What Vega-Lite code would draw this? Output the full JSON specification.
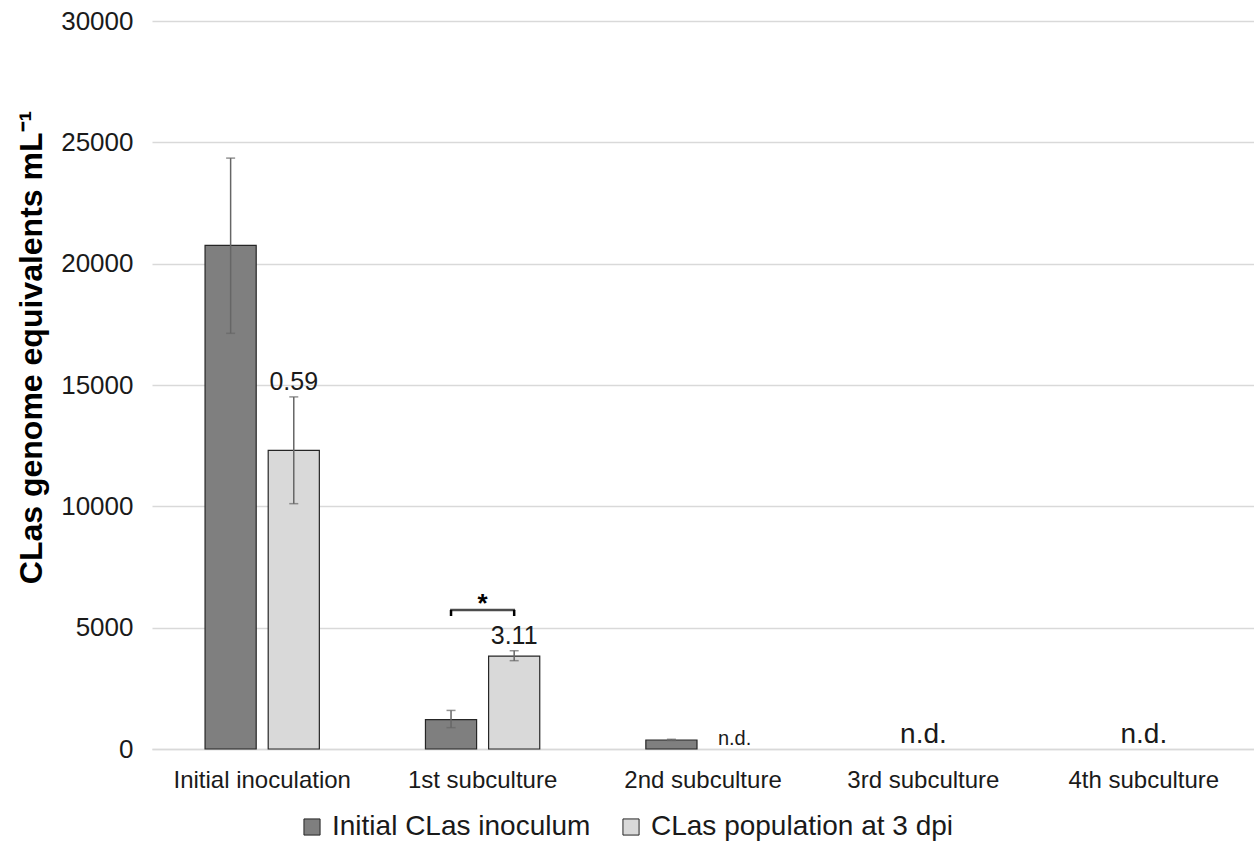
{
  "$schema": "https://vega.github.io/schema/vega-lite/v6.json",
  "width": 1102,
  "height": 728,
  "autosize": {"type": "none"},
  "padding": {"left": 152, "top": 21, "right": 0, "bottom": 92},
  "background": "white",
  "config": {"view": {"stroke": null}, "font": "Liberation Sans"},
  "datasets": {
    "bars": [
      {"stage": "Initial inoculation", "series": "Initial CLas inoculum", "value": 20750, "lo": 17130, "hi": 24350, "note": null},
      {"stage": "Initial inoculation", "series": "CLas population at 3 dpi", "value": 12310, "lo": 10110, "hi": 14510, "note": "0.59"},
      {"stage": "1st subculture", "series": "Initial CLas inoculum", "value": 1210, "lo": 880, "hi": 1590, "note": null},
      {"stage": "1st subculture", "series": "CLas population at 3 dpi", "value": 3830, "lo": 3640, "hi": 4050, "note": "3.11"},
      {"stage": "2nd subculture", "series": "Initial CLas inoculum", "value": 370, "lo": 350, "hi": 400, "note": null}
    ],
    "ndsmall": [
      {"stage": "2nd subculture", "series": "CLas population at 3 dpi", "y": 0, "text": "n.d."}
    ],
    "ndlarge": [
      {"stage": "3rd subculture", "y": 0, "text": "n.d."},
      {"stage": "4th subculture", "y": 0, "text": "n.d."}
    ],
    "bracket": [
      {"stage": "1st subculture", "series": "Initial CLas inoculum", "lo": 5480, "hi": 5730},
      {"stage": "1st subculture", "series": "CLas population at 3 dpi", "lo": 5480, "hi": 5730}
    ],
    "star": [
      {"stage": "1st subculture", "y": 5730, "text": "*"}
    ]
  },
  "encoding": {
    "x": {
      "field": "stage", "type": "nominal",
      "scale": {"domain": ["Initial inoculation", "1st subculture", "2nd subculture", "3rd subculture", "4th subculture"], "paddingInner": 0, "paddingOuter": 0},
      "axis": {"title": null, "labelAngle": 0, "labelFontSize": 24, "labelColor": "#1a1a1a", "labelPadding": 19, "labelLimit": 300, "ticks": false, "domainColor": "#d9d9d9", "domainWidth": 1.5, "grid": false}
    }
  },
  "layer": [
    {
      "data": {"name": "bars"},
      "mark": {"type": "bar", "stroke": "#262626", "strokeWidth": 1.2},
      "encoding": {
        "xOffset": {"field": "series", "type": "nominal", "scale": {"domain": ["Initial CLas inoculum", "CLas population at 3 dpi"], "paddingInner": 0.19, "paddingOuter": 0.84}},
        "y": {
          "field": "value", "type": "quantitative",
          "scale": {"domain": [0, 30000], "nice": false},
          "axis": {"title": "CLas genome equivalents mL⁻¹", "titleFontSize": 32, "titleFontWeight": "bold", "titleColor": "#000", "titlePadding": 12, "titleY": 326, "labelFontSize": 26, "labelColor": "#1a1a1a", "labelPadding": 19, "values": [0, 5000, 10000, 15000, 20000, 25000, 30000], "format": "d", "ticks": false, "domain": false, "gridColor": "#d9d9d9", "gridWidth": 1.5}
        },
        "color": {
          "field": "series", "type": "nominal",
          "scale": {"domain": ["Initial CLas inoculum", "CLas population at 3 dpi"], "range": ["#7f7f7f", "#d9d9d9"]},
          "legend": {"title": null, "orient": "none", "direction": "horizontal", "legendX": 146, "legendY": 792, "symbolType": "square", "symbolSize": 260, "symbolStrokeColor": "#262626", "symbolStrokeWidth": 1, "labelFontSize": 28, "labelLimit": 500, "labelColor": "#1a1a1a", "labelOffset": 6, "columnPadding": 26}
        }
      }
    },
    {
      "data": {"name": "bars"},
      "mark": {"type": "rule", "color": "#666666", "strokeWidth": 1.5},
      "encoding": {
        "xOffset": {"field": "series", "type": "nominal"},
        "y": {"field": "lo", "type": "quantitative"},
        "y2": {"field": "hi"}
      }
    },
    {
      "data": {"name": "bars"},
      "mark": {"type": "tick", "color": "#666666", "size": 9, "thickness": 1.5},
      "encoding": {
        "xOffset": {"field": "series", "type": "nominal"},
        "y": {"field": "hi", "type": "quantitative"}
      }
    },
    {
      "data": {"name": "bars"},
      "mark": {"type": "tick", "color": "#666666", "size": 9, "thickness": 1.5},
      "encoding": {
        "xOffset": {"field": "series", "type": "nominal"},
        "y": {"field": "lo", "type": "quantitative"}
      }
    },
    {
      "data": {"name": "bars"},
      "transform": [{"filter": "datum.note != null"}],
      "mark": {"type": "text", "fontSize": 25, "color": "#1a1a1a", "baseline": "alphabetic", "dy": -7},
      "encoding": {
        "xOffset": {"field": "series", "type": "nominal"},
        "y": {"field": "hi", "type": "quantitative"},
        "text": {"field": "note"}
      }
    },
    {
      "data": {"name": "ndsmall"},
      "mark": {"type": "text", "fontSize": 20, "color": "#1a1a1a", "baseline": "alphabetic", "dy": -4},
      "encoding": {
        "xOffset": {"field": "series", "type": "nominal"},
        "y": {"field": "y", "type": "quantitative"},
        "text": {"field": "text"}
      }
    },
    {
      "data": {"name": "ndlarge"},
      "mark": {"type": "text", "fontSize": 28, "color": "#1a1a1a", "baseline": "alphabetic", "dy": -6},
      "encoding": {
        "y": {"field": "y", "type": "quantitative"},
        "text": {"field": "text"}
      }
    },
    {
      "data": {"name": "bracket"},
      "mark": {"type": "rule", "color": "#000000", "strokeWidth": 2.5},
      "encoding": {
        "xOffset": {"field": "series", "type": "nominal"},
        "y": {"field": "lo", "type": "quantitative"},
        "y2": {"field": "hi"}
      }
    },
    {
      "data": {"name": "star"},
      "mark": {"type": "tick", "color": "#000000", "size": 65, "thickness": 2.5},
      "encoding": {
        "y": {"field": "y", "type": "quantitative"}
      }
    },
    {
      "data": {"name": "star"},
      "mark": {"type": "text", "fontSize": 26, "fontWeight": "bold", "color": "#000000", "baseline": "alphabetic", "dy": 2},
      "encoding": {
        "y": {"field": "y", "type": "quantitative"},
        "text": {"field": "text"}
      }
    }
  ]
}
